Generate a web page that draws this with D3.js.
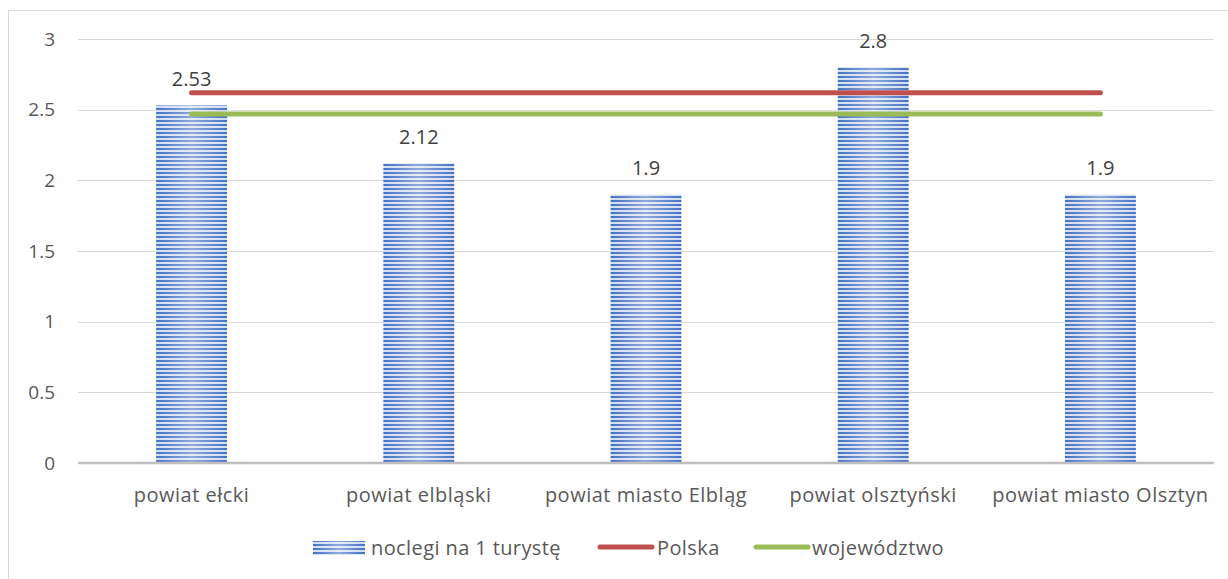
<!DOCTYPE html>
<html><head><meta charset="utf-8">
<script src="https://cdn.jsdelivr.net/npm/d3@7"></script>
<style>body{margin:0;background:#fff}svg{display:block}</style>
</head><body>
<svg id="c" width="1228" height="579"></svg>
<script>
const categories = ["powiat ełcki","powiat elbląski","powiat miasto Elbląg","powiat olsztyński","powiat miasto Olsztyn"];
const noclegi = [2.53, 2.12, 1.9, 2.8, 1.9];
const polska = [2.62, 2.62, 2.62, 2.62, 2.62];
const wojewodztwo = [2.47, 2.47, 2.47, 2.47, 2.47];
const yTicks = [0, 0.5, 1, 1.5, 2, 2.5, 3];
const seriesNames = ["noclegi na 1 turystę", "Polska", "województwo"];

const svg = d3.select("#c");
const font = "'Open Sans', sans-serif";
const M = {left:78, right:1214, top:39, bottom:463};

// chart border
svg.append("rect").attr("x",8.5).attr("y",10.5).attr("width",1240).attr("height",600)
  .attr("fill","none").attr("stroke","#d9d9d9");

const x = d3.scaleBand().domain(categories).range([M.left, M.right]).paddingInner(0.688).paddingOuter(0.344);
const y = d3.scaleLinear().domain([0,3]).range([M.bottom, M.top]);

// pattern
const defs = svg.append("defs");
const grad = defs.append("linearGradient").attr("id","g").attr("x1","0").attr("x2","1").attr("y1","0").attr("y2","0");
grad.append("stop").attr("offset","0").attr("stop-color","#ffffff").attr("stop-opacity",0);
grad.append("stop").attr("offset","0.5").attr("stop-color","#ffffff").attr("stop-opacity",0.4);
grad.append("stop").attr("offset","1").attr("stop-color","#ffffff").attr("stop-opacity",0);
const pat = defs.append("pattern").attr("id","stripes").attr("patternUnits","userSpaceOnUse")
  .attr("width",8).attr("height",4);
pat.append("rect").attr("width",8).attr("height",4).attr("fill","#d4def2");
pat.append("rect").attr("width",8).attr("height",2).attr("fill","#4472c4");

// gridlines
svg.append("g").selectAll("line").data(yTicks.filter(d=>d>0)).join("line")
  .attr("x1",M.left).attr("x2",M.right).attr("y1",d=>Math.round(y(d))+0.5).attr("y2",d=>Math.round(y(d))+0.5)
  .attr("stroke","#d9d9d9").attr("stroke-width",1);

// y labels
const yAxis = d3.axisLeft(y).tickValues(yTicks).tickSize(0).tickPadding(0).tickFormat(d=>String(d));
const ga = svg.append("g").attr("transform",`translate(${M.left-23},0)`).call(yAxis);
ga.select(".domain").remove();
ga.selectAll("text").attr("font-family",font).attr("font-size",19).attr("fill","#595959");

// bars
const bars = svg.append("g").selectAll("g").data(noclegi).join("g");
bars.append("rect").attr("x",(d,i)=>x(categories[i])).attr("width",x.bandwidth())
  .attr("y",d=>y(d)).attr("height",d=>y(0)-y(d)).attr("fill","url(#stripes)");
bars.append("rect").attr("x",(d,i)=>x(categories[i])).attr("width",x.bandwidth())
  .attr("y",d=>y(d)).attr("height",d=>y(0)-y(d)).attr("fill","url(#g)");

// x axis line
svg.append("line").attr("x1",M.left).attr("x2",M.right).attr("y1",y(0)).attr("y2",y(0))
  .attr("stroke","#bfbfbf").attr("stroke-width",2.5);

// lines
const cx = i => x(categories[i]) + x.bandwidth()/2;
const line = d3.line().x((d,i)=>cx(i)).y(d=>y(d));
svg.append("path").datum(polska).attr("d",line).attr("fill","none").attr("stroke","#c0504d")
  .attr("stroke-width",5).attr("stroke-linecap","round");
svg.append("path").datum(wojewodztwo).attr("d",line).attr("fill","none").attr("stroke","#9bbb59")
  .attr("stroke-width",5).attr("stroke-linecap","round");

// data labels
svg.append("g").selectAll("text").data(noclegi).join("text")
  .attr("x",(d,i)=>cx(i)).attr("y",d=>y(d)-19).attr("text-anchor","middle")
  .attr("font-family",font).attr("font-size",20).attr("fill","#404040").text(d=>String(d));

// category labels
svg.append("g").selectAll("text").data(categories).join("text")
  .attr("x",(d,i)=>cx(i)).attr("y",502).attr("text-anchor","middle")
  .attr("font-family",font).attr("font-size",20).attr("letter-spacing",0.5).attr("fill","#595959").text(d=>d);

// legend
const lg = svg.append("g").attr("font-family",font).attr("font-size",20).attr("letter-spacing",0.4).attr("fill","#595959");
lg.append("rect").attr("x",313).attr("y",541).attr("width",52).attr("height",14).attr("fill","url(#stripes)");
lg.append("rect").attr("x",313).attr("y",541).attr("width",52).attr("height",14).attr("fill","url(#g)");
lg.append("text").attr("x",371).attr("y",555).text(seriesNames[0]);
lg.append("line").attr("x1",600).attr("x2",652).attr("y1",547).attr("y2",547).attr("stroke","#c0504d").attr("stroke-width",5).attr("stroke-linecap","round");
lg.append("text").attr("x",657).attr("y",555).text(seriesNames[1]);
lg.append("line").attr("x1",756).attr("x2",808).attr("y1",547).attr("y2",547).attr("stroke","#9bbb59").attr("stroke-width",5).attr("stroke-linecap","round");
lg.append("text").attr("x",812).attr("y",555).text(seriesNames[2]);
</script>
</body></html>
